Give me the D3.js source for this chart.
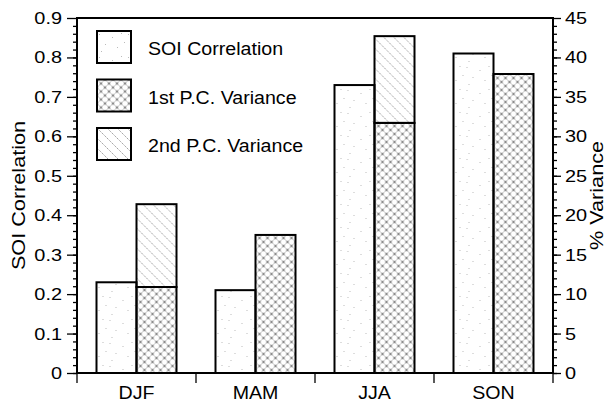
<!DOCTYPE html>
<html>
<head>
<meta charset="utf-8">
<script src="https://d3js.org/d3.v7.min.js"></script>
<style>
body{margin:0;background:#fff;}
text{font-family:"Liberation Sans",Arial,sans-serif;fill:#000;}
</style>
</head>
<body>
<script>
var seasons=["DJF","MAM","JJA","SON"];
var soiCorr=[0.23,0.21,0.73,0.81];
var pc1Var=[10.9,17.5,31.7,37.9];
var pc2Var=[10.5,0,11.0,0];
var corrTicks=[0,0.1,0.2,0.3,0.4,0.5,0.6,0.7,0.8,0.9];
var varTicks=[0,5,10,15,20,25,30,35,40,45];
var legendNames=["SOI Correlation","1st P.C. Variance","2nd P.C. Variance"];

var scren={width:612,height:413};
var margins={top:18,bottom:40,left:77,right:59};
var width=scren.width-margins.left-margins.right;
var height=scren.height-margins.top-margins.bottom;

var svg=d3.select("body").append("svg")
          .attr("width",scren.width)
          .attr("height",scren.height);

// glyphs in the original are a bit wider than Arial
var stretch=function(sel,k)
{
  sel.each(function(){
    var l=this.getComputedTextLength();
    d3.select(this).attr("textLength",l*k).attr("lengthAdjust","spacingAndGlyphs");
  });
};

//patterns
var defs=svg.append("defs");
var stip=defs.append("pattern").attr("id","stip").attr("patternUnits","userSpaceOnUse")
             .attr("width",29).attr("height",23);
var dots=[[2,3],[15,6],[24,2],[8,13],[20,16],[4,20],[27,11]];
stip.selectAll("rect").data(dots).enter().append("rect")
    .attr("x",function(d){return d[0];})
    .attr("y",function(d){return d[1];})
    .attr("width",1).attr("height",1)
    .attr("fill","#bbb");

var cross=defs.append("pattern").attr("id","cross").attr("patternUnits","userSpaceOnUse")
              .attr("width",8).attr("height",8);
cross.append("path").attr("d","M0,0L8,8M8,0L0,8")
     .attr("stroke","#999").attr("stroke-width",0.6);
[[4,4],[0,0],[8,0],[0,8],[8,8]].forEach(function(p){
  cross.append("circle").attr("cx",p[0]).attr("cy",p[1]).attr("r",1)
       .attr("fill","none").attr("stroke","#555").attr("stroke-width",0.6);
});

var diag=defs.append("pattern").attr("id","diag").attr("patternUnits","userSpaceOnUse")
             .attr("width",10).attr("height",10);
diag.append("path").attr("d","M0,0L10,10M-1,9L1,11M9,-1L11,1")
    .attr("stroke","#777").attr("stroke-width",0.7).attr("stroke-dasharray","1.5,0.8");

//scales
var xScale=d3.scaleBand().domain(seasons).range([0,width]);
var yCorr=d3.scaleLinear().domain([0,0.9]).range([height,0]);
var yVar=d3.scaleLinear().domain([0,45]).range([height,0]);
var barW=40;

var plotLand=svg.append("g")
                .classed("plot",true)
                .attr("transform","translate("+margins.left+","+margins.top+")");

var groups=plotLand.selectAll("g.season")
                   .data(seasons)
                   .enter()
                   .append("g")
                   .classed("season",true)
                   .attr("transform",function(d){return "translate("+(xScale(d)+xScale.bandwidth()/2)+",0)";});

groups.append("rect")
      .attr("x",-barW)
      .attr("y",function(d,i){return yCorr(soiCorr[i]);})
      .attr("width",barW)
      .attr("height",function(d,i){return height-yCorr(soiCorr[i]);})
      .attr("fill","url(#stip)")
      .attr("stroke","#000").attr("stroke-width",2);

groups.filter(function(d,i){return pc2Var[i]>0;})
      .append("rect")
      .attr("x",0)
      .attr("y",function(d){var i=seasons.indexOf(d);return yVar(pc1Var[i]+pc2Var[i]);})
      .attr("width",barW)
      .attr("height",function(d){var i=seasons.indexOf(d);return yVar(pc1Var[i])-yVar(pc1Var[i]+pc2Var[i]);})
      .attr("fill","url(#diag)")
      .attr("stroke","#000").attr("stroke-width",2);

groups.append("rect")
      .attr("x",0)
      .attr("y",function(d,i){return yVar(pc1Var[i]);})
      .attr("width",barW)
      .attr("height",function(d,i){return height-yVar(pc1Var[i]);})
      .attr("fill","url(#cross)")
      .attr("stroke","#000").attr("stroke-width",2);

//axes
var leftAxis=d3.axisLeft(yCorr).tickValues(corrTicks).tickSize(10).tickPadding(5)
               .tickFormat(function(d){return d==0?"0":d3.format(".1f")(d);});
var leftMinor=d3.axisLeft(yCorr).tickValues(d3.range(0,0.9,0.02)).tickSize(4).tickFormat("");
var rightAxis=d3.axisRight(yVar).tickValues(varTicks).tickSize(8).tickPadding(4);
var rightMinor=d3.axisRight(yVar).tickValues(d3.range(0,45,1)).tickSize(4).tickFormat("");
var xAxis=d3.axisBottom(xScale).tickSize(0).tickPadding(14);

var styleAxis=function(g)
{
  g.select(".domain").remove();
  g.selectAll("line").attr("stroke","#000").attr("stroke-width",1.3);
  g.selectAll("text").style("font-size","17px");
};

plotLand.append("g").call(leftMinor).call(styleAxis);
plotLand.append("g").call(leftAxis).call(styleAxis).selectAll("text").call(stretch,1.17);
plotLand.append("g").attr("transform","translate("+width+",0)").call(rightMinor).call(styleAxis);
plotLand.append("g").attr("transform","translate("+width+",0)").call(rightAxis).call(styleAxis)
        .selectAll("text").call(stretch,1.17);
var xg=plotLand.append("g").attr("transform","translate(0,"+height+")").call(xAxis).call(styleAxis);
xg.selectAll("text").style("font-size","17.5px").call(stretch,1.12);

//category ticks between seasons
plotLand.selectAll("line.cat")
        .data(d3.range(seasons.length+1))
        .enter().append("line").classed("cat",true)
        .attr("x1",function(d){return d*xScale.step();})
        .attr("x2",function(d){return d*xScale.step();})
        .attr("y1",height).attr("y2",height+10)
        .attr("stroke","#000").attr("stroke-width",1.3);

//frame
plotLand.append("rect").attr("x",0).attr("y",0).attr("width",width).attr("height",height)
        .attr("fill","none").attr("stroke","#000").attr("stroke-width",2);

//axis titles
svg.append("text").attr("transform","translate(25,"+(margins.top+height/2)+") rotate(-90)")
   .attr("text-anchor","middle").style("font-size","18.5px").text("SOI Correlation")
   .call(stretch,1.17);
svg.append("text").attr("transform","translate(603,"+(margins.top+height/2)+") rotate(-90)")
   .attr("text-anchor","middle").style("font-size","18.5px").text("% Variance")
   .call(stretch,1.17);

//the legend...
var fills=["url(#stip)","url(#cross)","url(#diag)"];
var legend=svg.append("g").classed("legend",true)
              .attr("transform","translate(97,31)");
var legendLines=legend.selectAll("g")
                      .data(legendNames)
                      .enter()
                      .append("g")
                      .attr("transform",function(d,i){return "translate(0,"+(i*48.5)+")";});
legendLines.append("rect")
           .attr("x",0).attr("y",0)
           .attr("width",34).attr("height",32)
           .attr("fill",function(d,i){return fills[i];})
           .attr("stroke","#000").attr("stroke-width",2);
legendLines.append("text")
           .attr("x",51).attr("y",24)
           .style("font-size","17.5px")
           .text(function(d){return d;})
           .call(stretch,1.12);
</script>
</body>
</html>
